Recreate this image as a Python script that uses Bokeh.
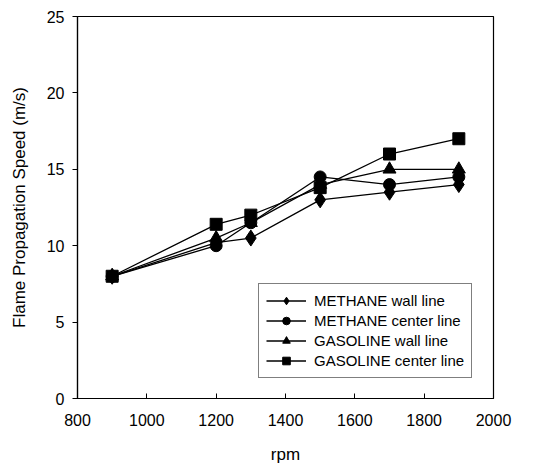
from bokeh.plotting import figure
from bokeh.models import Range1d, FixedTicker, Legend, LegendItem
from bokeh.embed import file_html
from bokeh.resources import INLINE

rpm = [900, 1200, 1300, 1500, 1700, 1900]
methane_wall = [8.0, 10.2, 10.5, 13.0, 13.5, 14.0]
methane_center = [8.0, 10.0, 11.5, 14.5, 14.0, 14.5]
gasoline_wall = [8.0, 10.5, 11.5, 14.0, 15.0, 15.0]
gasoline_center = [8.0, 11.4, 12.0, 13.8, 16.0, 17.0]

x_ticks = [800, 1000, 1200, 1400, 1600, 1800, 2000]
y_ticks = [0, 5, 10, 15, 20, 25]

FONT = "Liberation Sans"

p = figure(width=553, height=468, output_backend="svg", toolbar_location=None,
           x_range=Range1d(800, 2000), y_range=Range1d(0, 25),
           min_border_left=77, min_border_right=60, min_border_top=16, min_border_bottom=70)
p.background_fill_color = "white"
p.border_fill_color = "white"
p.outline_line_color = "black"
p.outline_line_width = 1.2
p.xgrid.visible = False
p.ygrid.visible = False

for ax in (p.xaxis[0], p.yaxis[0]):
    ax.axis_line_color = "black"
    ax.axis_line_width = 1.2
    ax.major_tick_line_color = "black"
    ax.minor_tick_line_color = None
    ax.major_label_text_font = FONT
    ax.major_label_text_font_size = "16px"
    ax.major_label_text_color = "black"
    ax.axis_label_text_font = FONT
    ax.axis_label_text_font_size = "17px"
    ax.axis_label_text_font_style = "normal"
    ax.axis_label_text_color = "black"

p.xaxis.ticker = FixedTicker(ticks=x_ticks)
p.yaxis.ticker = FixedTicker(ticks=y_ticks)
p.xaxis.major_tick_in = 5
p.xaxis.major_tick_out = 0
p.yaxis.major_tick_in = 0
p.yaxis.major_tick_out = 5
p.xaxis.major_label_standoff = 15
p.yaxis.major_label_standoff = 8
p.xaxis.axis_label = "rpm"
p.yaxis.axis_label = "Flame Propagation Speed (m/s)"
p.xaxis.axis_label_standoff = 16
p.yaxis.axis_label_standoff = 15

items = []
series = [
    ("METHANE wall line", methane_wall, "diamond", 16),
    ("METHANE center line", methane_center, "circle", 12),
    ("GASOLINE wall line", gasoline_wall, "triangle", 13),
    ("GASOLINE center line", gasoline_center, "square", 12),
]
for label, ys, marker, size in series:
    l = p.line(rpm, ys, line_color="black", line_width=1.3)
    m = p.scatter(rpm, ys, marker=marker, size=size, fill_color="black", line_color="black")
    items.append(LegendItem(label=label, renderers=[l, m]))

legend = Legend(items=items, location=(181, 20))
legend.border_line_color = "black"
legend.border_line_width = 1
legend.background_fill_alpha = 1
legend.label_text_font = FONT
legend.label_text_font_size = "15px"
legend.label_text_color = "black"
legend.glyph_width = 40
legend.glyph_height = 19
legend.label_height = 19
legend.spacing = 1
legend.padding = 7
legend.margin = 0
legend.label_standoff = 8
p.add_layout(legend, "center")

open("out.html", "w").write(file_html(p, INLINE))
